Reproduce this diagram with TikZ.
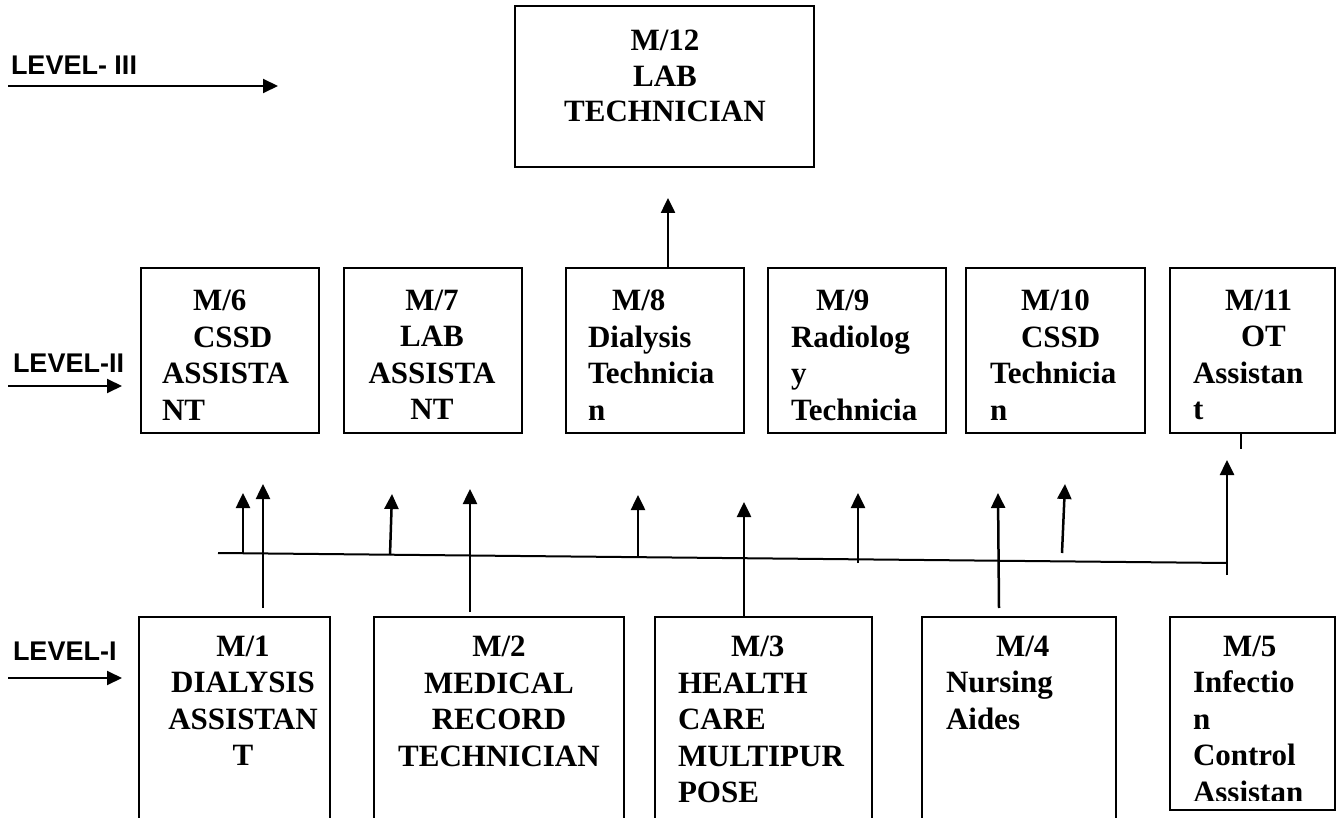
\documentclass[tikz,border=0pt]{standalone}
\usepackage{fontspec}
\setmainfont{Liberation Serif}
\newfontfamily\lvlfont{Liberation Sans}
\usetikzlibrary{arrows.meta}

\begin{document}
\begin{tikzpicture}[x=1pt, y=-1pt, line width=2pt,
    box/.style={draw, anchor=north west, inner sep=0pt, outer sep=0pt},
    txt/.style={anchor=north west, inner sep=0pt, align=left,
      font=\bfseries\fontsize{31}{36.5}\selectfont},
    ctxt/.style={txt, anchor=north, align=center},
    lvl/.style={anchor=base west, inner sep=0pt,
      font=\lvlfont\bfseries\fontsize{27}{30}\selectfont},
    up/.style={-{Triangle[length=15pt,width=14pt]}, line width=2.5pt}]
      \useasboundingbox (0,0) rectangle (1344,818);
      \node[box, minimum width=299, minimum height=161] (m12) at (515,6) {};
      \node[box, minimum width=178, minimum height=165] (m6) at (141,268) {};
      \node[box, minimum width=178, minimum height=165] (m7) at (344,268) {};
      \node[box, minimum width=178, minimum height=165] (m8) at (566,268) {};
      \node[box, minimum width=178, minimum height=165] (m9) at (768,268) {};
      \node[box, minimum width=179, minimum height=165] (m10) at (966,268) {};
      \node[box, minimum width=165, minimum height=165] (m11) at (1170,268) {};
      \node[box, minimum width=191, minimum height=230] (m1) at (139,617) {};
      \node[box, minimum width=250, minimum height=230] (m2) at (374,617) {};
      \node[box, minimum width=217, minimum height=230] (m3) at (655,617) {};
      \node[box, minimum width=194, minimum height=230] (m4) at (922,617) {};
      \node[box, minimum width=165, minimum height=193] (m5) at (1170,617) {};
      \node[ctxt, font=\bfseries\fontsize{31}{35.5}\selectfont] (t12) at (665,29) {M/12\\LAB\\TECHNICIAN};
      \node[txt] (t6) at (161,289) {\hspace*{31pt}M/6\\\hspace*{31pt}CSSD\\ASSISTA\\NT};
      \node[ctxt] (t7) at (432,289) {M/7\\LAB\\ASSISTA\\NT};
      \node[txt] (t8) at (587,289) {\hspace*{24pt}M/8\\Dialysis\\Technicia\\n};
      \node[txt] (t9) at (790,289) {\hspace*{25pt}M/9\\Radiolog\\y\\Technicia};
      \node[txt] (t10) at (989,289) {\hspace*{31pt}M/10\\\hspace*{31pt}CSSD\\Technicia\\n};
      \node[txt] (t11) at (1192,289) {\hspace*{32pt}M/11\\\hspace*{48pt}OT\\Assistan\\t};
      \node[ctxt] (t1) at (243,635) {M/1\\DIALYSIS\\ASSISTAN\\T};
      \node[ctxt] (t2) at (499,635) {M/2\\MEDICAL\\RECORD\\TECHNICIAN};
      \node[txt] (t3) at (677,635) {\hspace*{53pt}M/3\\HEALTH\\CARE\\MULTIPUR\\POSE};
      \node[txt] (t4) at (945,635) {\hspace*{50pt}M/4\\Nursing\\Aides};
      \begin{scope}
        \clip (m5.north west) rectangle (1335,800);
        \node[txt] (t5) at (1192,635) {\hspace*{30pt}M/5\\Infectio\\n\\Control\\Assistan};
      \end{scope}
      \node[lvl] (l3) at (10,75) {LEVEL- III};
      \node[lvl] (l2) at (12,372) {LEVEL-II};
      \node[lvl] (l1) at (12,660) {LEVEL-I};
      \coordinate (l3a) at (8,86);
      \coordinate (l3b) at (278,86);
      \coordinate (l2a) at (8,386);
      \coordinate (l2b) at (122,386);
      \coordinate (l1a) at (8,678);
      \coordinate (l1b) at (122,678);
      \draw[up, line width=2pt] (l3a) -- (l3b);
      \draw[up, line width=2pt] (l2a) -- (l2b);
      \draw[up, line width=2pt] (l1a) -- (l1b);
      \coordinate (m8up) at (668,268);
      \coordinate (m12in) at (668,198);
      \draw[up] (m8up) -- (m12in);
      \coordinate (busl) at (218,553);
      \coordinate (busr) at (1227,563);
      \draw (busl) -- (busr);
      \coordinate (a1s) at (243,553);
      \coordinate (a1e) at (243,493);
      \coordinate (a3s) at (390,555);
      \coordinate (a3e) at (392,494);
      \coordinate (a5s) at (638,557);
      \coordinate (a5e) at (638,495);
      \coordinate (a7s) at (858,563);
      \coordinate (a7e) at (858,493);
      \coordinate (a9s) at (1062,553);
      \coordinate (a9e) at (1065,484);
      \draw[up] (a1s) -- (a1e);
      \draw[up] (a3s) -- (a3e);
      \draw[up] (a5s) -- (a5e);
      \draw[up] (a7s) -- (a7e);
      \draw[up] (a9s) -- (a9e);
      \coordinate (b1s) at (263,608);
      \coordinate (b1e) at (263,484);
      \coordinate (b2s) at (470,612);
      \coordinate (b2e) at (470,489);
      \coordinate (b3s) at (744,617);
      \coordinate (b3e) at (744,502);
      \coordinate (b4s) at (999,608);
      \coordinate (b4e) at (998,493);
      \coordinate (b5s) at (1227,575);
      \coordinate (b5e) at (1227,460);
      \draw[up] (b1s) -- (b1e);
      \draw[up] (b2s) -- (b2e);
      \draw[up] (b3s) -- (b3e);
      \draw[up] (b4s) -- (b4e);
      \draw[up] (b5s) -- (b5e);
      \coordinate (tick) at (1241,449);
      \draw (m11.south -| tick) -- (tick);
\end{tikzpicture}
\end{document}
